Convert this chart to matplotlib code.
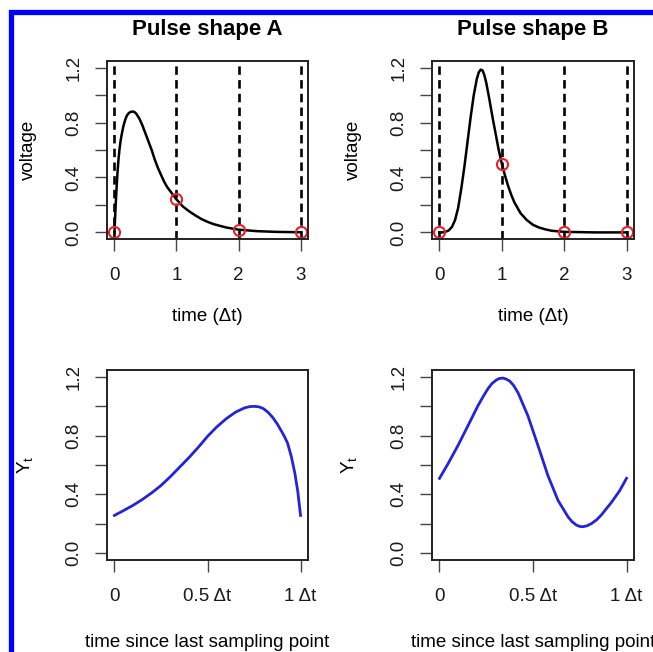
import numpy as np
import matplotlib
matplotlib.use('Agg')
import matplotlib.pyplot as plt
from matplotlib.patches import Rectangle

plt.rcParams['font.family'] = ['Liberation Sans', 'DejaVu Sans']
plt.rcParams['mathtext.fontset'] = 'custom'
plt.rcParams['mathtext.rm'] = 'Liberation Sans'
plt.rcParams['mathtext.it'] = 'Liberation Sans:italic'
plt.rcParams['font.size'] = 13.5

# pulse shape A : time (dt) vs voltage
tA = [0, 0.01, 0.02, 0.035, 0.05, 0.065, 0.08, 0.1, 0.12, 0.14, 0.16, 0.18, 0.2, 0.225, 0.25,
      0.275, 0.3, 0.325, 0.35, 0.4, 0.45, 0.5, 0.55, 0.6, 0.65, 0.7, 0.75, 0.8, 0.85, 0.9, 0.95,
      1.0, 1.1, 1.2, 1.3, 1.4, 1.5, 1.6, 1.8, 2.0, 2.3, 2.6, 3.0]
vA = [0, 0.1, 0.2, 0.33, 0.44, 0.53, 0.6, 0.67, 0.72, 0.765, 0.8, 0.828, 0.85, 0.866, 0.875,
      0.879, 0.88, 0.876, 0.865, 0.83, 0.78, 0.72, 0.66, 0.60, 0.53, 0.47, 0.42, 0.37, 0.33,
      0.30, 0.27, 0.24, 0.19, 0.155, 0.125, 0.098, 0.077, 0.06, 0.036, 0.02, 0.009, 0.004, 0.001]
# pulse shape B
tB = [0, 0.05, 0.1, 0.15, 0.2, 0.25, 0.3, 0.35, 0.4, 0.45, 0.5, 0.55, 0.6, 0.63, 0.66, 0.69,
      0.72, 0.75, 0.8, 0.85, 0.9, 0.95, 1.0, 1.05, 1.1, 1.15, 1.2, 1.3, 1.4, 1.5, 1.6, 1.7, 1.8,
      2.0, 2.5, 3.0]
vB = [0, 0.0, 0.005, 0.015, 0.04, 0.09, 0.18, 0.32, 0.48, 0.66, 0.84, 1.0, 1.12, 1.165, 1.185,
      1.18, 1.145, 1.09, 0.97, 0.84, 0.72, 0.6, 0.5, 0.415, 0.34, 0.275, 0.22, 0.14, 0.09,
      0.055, 0.035, 0.022, 0.012, 0.004, 0.0, 0.0]
# sampling points
t_samp  = [0, 1, 2, 3]
vA_samp = [0, 0.24, 0.015, 0.002]
vB_samp = [0, 0.50, 0.0, 0.0]

# Y_t vs time since last sampling point
sA = [0, 0.05, 0.1, 0.15, 0.2, 0.25, 0.3, 0.35, 0.4, 0.45, 0.5, 0.55, 0.6, 0.65, 0.7, 0.725,
      0.75, 0.775, 0.8, 0.825, 0.85, 0.875, 0.9, 0.915, 0.93, 0.95, 0.97, 0.985, 1.0]
yA = [0.256, 0.29, 0.325, 0.365, 0.41, 0.46, 0.52, 0.585, 0.65, 0.72, 0.795, 0.86, 0.915, 0.96,
      0.99, 0.998, 1.0, 0.997, 0.985, 0.96, 0.925, 0.88, 0.825, 0.79, 0.75, 0.66, 0.54, 0.42, 0.256]
sB = [0, 0.045, 0.098, 0.152, 0.205, 0.235, 0.259, 0.28, 0.304, 0.32, 0.339, 0.355, 0.375,
      0.395, 0.42, 0.473, 0.527, 0.58, 0.634, 0.688, 0.71, 0.732, 0.75, 0.768, 0.79, 0.812,
      0.84, 0.866, 0.92, 0.964, 1.0]
yB = [0.509, 0.607, 0.731, 0.867, 1.003, 1.07, 1.12, 1.155, 1.18, 1.19, 1.193, 1.187, 1.173,
      1.145, 1.093, 0.935, 0.731, 0.527, 0.358, 0.245, 0.212, 0.19, 0.181, 0.179, 0.186, 0.2,
      0.226, 0.26, 0.346, 0.426, 0.509]

yticks = [0, 0.2, 0.4, 0.6, 0.8, 1.0, 1.2]
ylabs = ['0.0', '', '0.4', '', '0.8', '', '1.2']

W, H = 653., 652.
fig = plt.figure(figsize=(6.53, 6.52), dpi=100)

def box(x0, y0, x1, y1):
    # pixel box -> figure fraction
    return [x0 / W, 1 - y1 / H, (x1 - x0) / W, (y1 - y0) / H]

def style(ax):
    for sp in ax.spines.values():
        sp.set_linewidth(1.4)
        sp.set_color('#222222')
    ax.tick_params(length=8.5, width=1.0, color='#444444', labelcolor='#1a1a1a', pad=12)
    ax.tick_params(axis='y', pad=9)
    ax.set_yticks(yticks)
    ax.set_yticklabels(ylabs, rotation=90, va='center')
    ax.set_ylim(-0.048, 1.248)

def top_panel(rect, t, v, vs, title):
    ax = fig.add_axes(box(*rect))
    for k in t_samp:
        ax.axvline(k, color='black', lw=1.9, dashes=(3.2, 2.0))
    ax.plot(t, v, color='black', lw=1.8, solid_joinstyle='round')
    ax.plot(t_samp, vs, 'o', mfc='none', mec='#e8202a', ms=8, mew=1.5)
    ax.set_xlim(-0.12, 3.12)
    ax.set_xticks(t_samp)
    style(ax)
    ax.set_title(title, fontsize=16, fontweight='bold', pad=19)
    ax.set_xlabel('time (\u0394t)', va='center')
    ax.xaxis.set_label_coords(0.5, -0.433)
    ax.set_ylabel('voltage', va='center')
    ax.yaxis.set_label_coords(-0.39, 0.5)
    return ax

def bottom_panel(rect, s, y):
    ax = fig.add_axes(box(*rect))
    ax.plot(s, y, color='#2323dd', lw=2.0, solid_joinstyle='round')
    ax.set_xlim(-0.04, 1.04)
    ax.set_xticks([0, 0.5, 1])
    ax.set_xticklabels(['0', '0.5 \u0394t', '1 \u0394t'])
    style(ax)
    ax.set_xlabel('time since last sampling point', va='center')
    ax.xaxis.set_label_coords(0.5, -0.432)
    ax.set_ylabel(r'$\mathrm{Y}_\mathrm{t}$', va='center')
    ax.yaxis.set_label_coords(-0.41, 0.5)
    return ax

top_panel((107, 61, 308, 239), tA, vA, vA_samp, 'Pulse shape A')
top_panel((432, 61, 634, 239), tB, vB, vB_samp, 'Pulse shape B')
bottom_panel((107, 370, 308, 560), sA, yA)
bottom_panel((432, 370, 634, 560), sB, yB)

# blue frame (left and top edge only visible)
fig.add_artist(Rectangle((10.5 / W, -0.1), 2.0, 1.1 - 11.5 / H, transform=fig.transFigure,
                         fill=False, edgecolor='#0000ff', lw=3.8, clip_on=False))

plt.savefig('out.png', dpi=100)
